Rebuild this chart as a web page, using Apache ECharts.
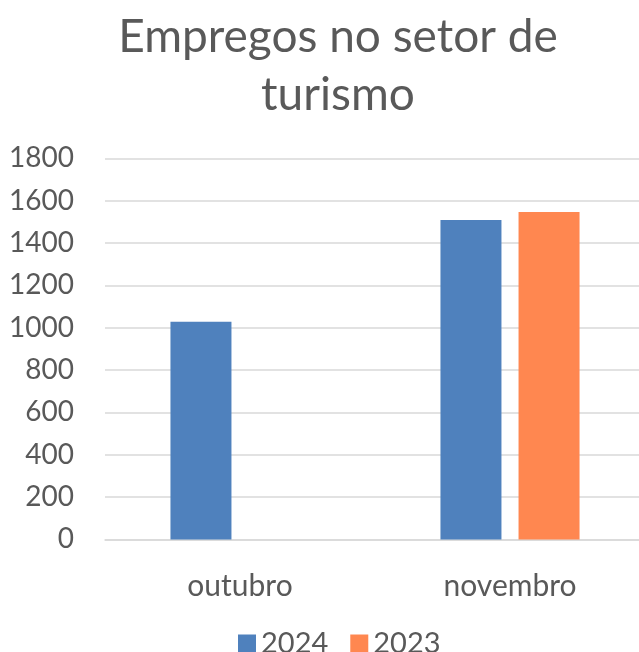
<!DOCTYPE html>
<html>
<head>
<meta charset="utf-8">
<script src="https://cdn.jsdelivr.net/npm/echarts@6/dist/echarts.min.js"></script>
<style>
  html, body { margin: 0; padding: 0; background: #fff; overflow: hidden; }
  #chart { width: 650px; height: 652px; }
</style>
</head>
<body>
<div id="chart"></div>
<script>
const months = ['outubro', 'novembro'];
const values2024 = [1028, 1509];
const values2023 = [null, 1547];
const yTicks = { min: 0, max: 1800, interval: 200 };

const font = 'Lato, "Open Sans", sans-serif';
const textGray = '#595959';

const myChart = echarts.init(document.getElementById('chart'));
const option = {
    backgroundColor: '#fff',
    animation: false,
    title: {
        text: 'Empregos no setor de\nturismo',
        left: 333,
        top: 3,
        textAlign: 'center',
        textStyle: {
            fontFamily: font,
            fontSize: 46,
            fontWeight: 'normal',
            color: textGray,
            lineHeight: 58
        }
    },
    legend: {
        top: 629,
        left: 238,
        padding: 0,
        icon: 'rect',
        itemWidth: 18,
        itemHeight: 18,
        itemGap: 22,
        textStyle: { fontFamily: font, fontSize: 29, color: textGray },
        data: ['2024', '2023']
    },
    // plot area runs a little past the right edge of the picture
    grid: { left: 105, width: 540, top: 158.4, bottom: 112.6, containLabel: false },
    xAxis: {
        type: 'category',
        data: months,
        axisTick: { show: false },
        axisLine: { lineStyle: { color: '#d9d9d9', width: 1.5 } },
        axisLabel: { fontFamily: font, fontSize: 30, color: textGray, margin: 32 }
    },
    yAxis: {
        type: 'value',
        min: yTicks.min,
        max: yTicks.max,
        interval: yTicks.interval,
        axisLine: { show: false },
        axisTick: { show: false },
        splitLine: { lineStyle: { color: '#d9d9d9', width: 1.5 } },
        axisLabel: {
            fontFamily: font, fontSize: 28, color: textGray, margin: 31,
            formatter: v => String(v)
        }
    },
    series: [
        {
            name: '2024',
            type: 'bar',
            data: values2024,
            barWidth: 61,
            barGap: '28%',
            itemStyle: { color: '#4f81bd' }
        },
        {
            name: '2023',
            type: 'bar',
            data: values2023,
            barWidth: 61,
            itemStyle: { color: '#ff8750' }
        }
    ]
};
myChart.setOption(option);
</script>
</body>
</html>
